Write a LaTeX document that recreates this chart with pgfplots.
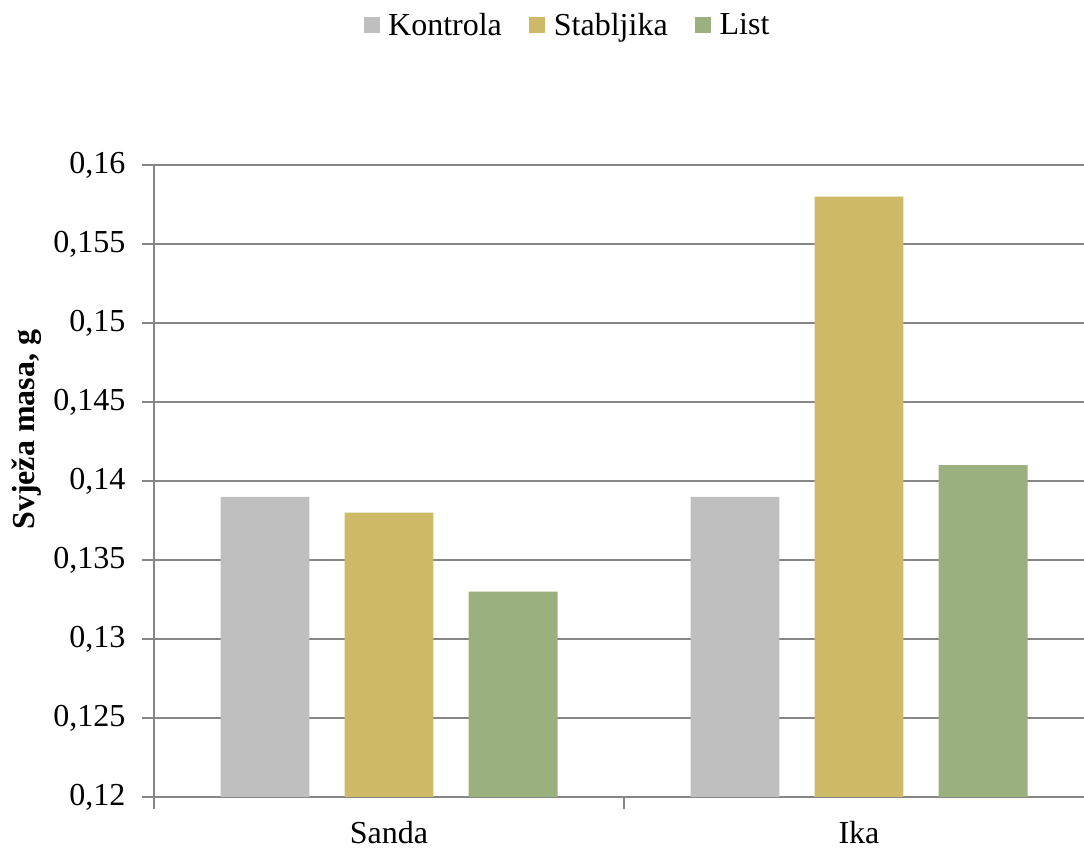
\documentclass[border=0pt]{standalone}
\usepackage{fontspec}
\setmainfont{Liberation Serif}
\usepackage{pgfplots}
\pgfplotsset{compat=1.18}
\definecolor{kontrola}{RGB}{191,191,191}
\definecolor{stablj}{RGB}{206,185,102}
\definecolor{listc}{RGB}{155,176,127}
\definecolor{gridc}{RGB}{134,134,134}
% square legend key with room before (between entries) and after (before text)
\pgfplotsset{sqlegend/.style={legend image code/.code={\path (-18.5pt,0pt); \fill[##1] (0pt,-6pt) rectangle (12pt,6pt); \path (16.5pt,0pt);}}}

\begin{document}
\begin{tikzpicture}[font=\fontsize{24}{28}\selectfont]
\path[use as bounding box] (0,0) rectangle (813pt,639pt);
\begin{axis}[
    at={(115.5pt,41.25pt)}, anchor=south west,
    scale only axis, width=697.5pt, height=474pt,
    xmin=-0.5, xmax=1.4787,
    ymin=0.12, ymax=0.16,
    ytick distance=0.005,
    /pgf/number format/.cd, use comma, fixed, precision=3, assume math mode=true,
    /pgfplots/.cd,
    axis x line*=bottom, axis y line*=left,
    axis line style={gridc, line width=1.2pt},
    tick align=outside, major tick length=9pt,
    tick style={gridc, line width=1.2pt},
    ymajorgrids, major grid style={gridc, line width=1.2pt},
    yticklabel style={xshift=-9pt},
    xtick={-0.5,0.5}, xticklabels={},
    extra x ticks={0,1}, extra x tick labels={Sanda,Ika},
    extra x tick style={major tick length=0pt, grid=none,
        tick label style={anchor=base, yshift=-34.5pt}},
    ylabel={\bfseries Svježa masa, g},
    every axis y label/.style={at={(axis description cs:-0.137,0.581)}, rotate=90, anchor=center},
    legend style={at={(axis description cs:0.4317,1.2215)}, anchor=center, draw=none,
        legend columns=-1},
    legend cell align=left,
]
\addplot[ybar, bar width=0.189, bar shift=-0.264, fill=kontrola, draw=none, sqlegend]
    coordinates {(0,0.139) (1,0.139)};
\addplot[ybar, bar width=0.189, bar shift=0, fill=stablj, draw=none, sqlegend]
    coordinates {(0,0.138) (1,0.158)};
\addplot[ybar, bar width=0.189, bar shift=0.264, fill=listc, draw=none, sqlegend]
    coordinates {(0,0.133) (1,0.141)};
\legend{Kontrola,Stabljika,List}
\end{axis}
\end{tikzpicture}
\end{document}
